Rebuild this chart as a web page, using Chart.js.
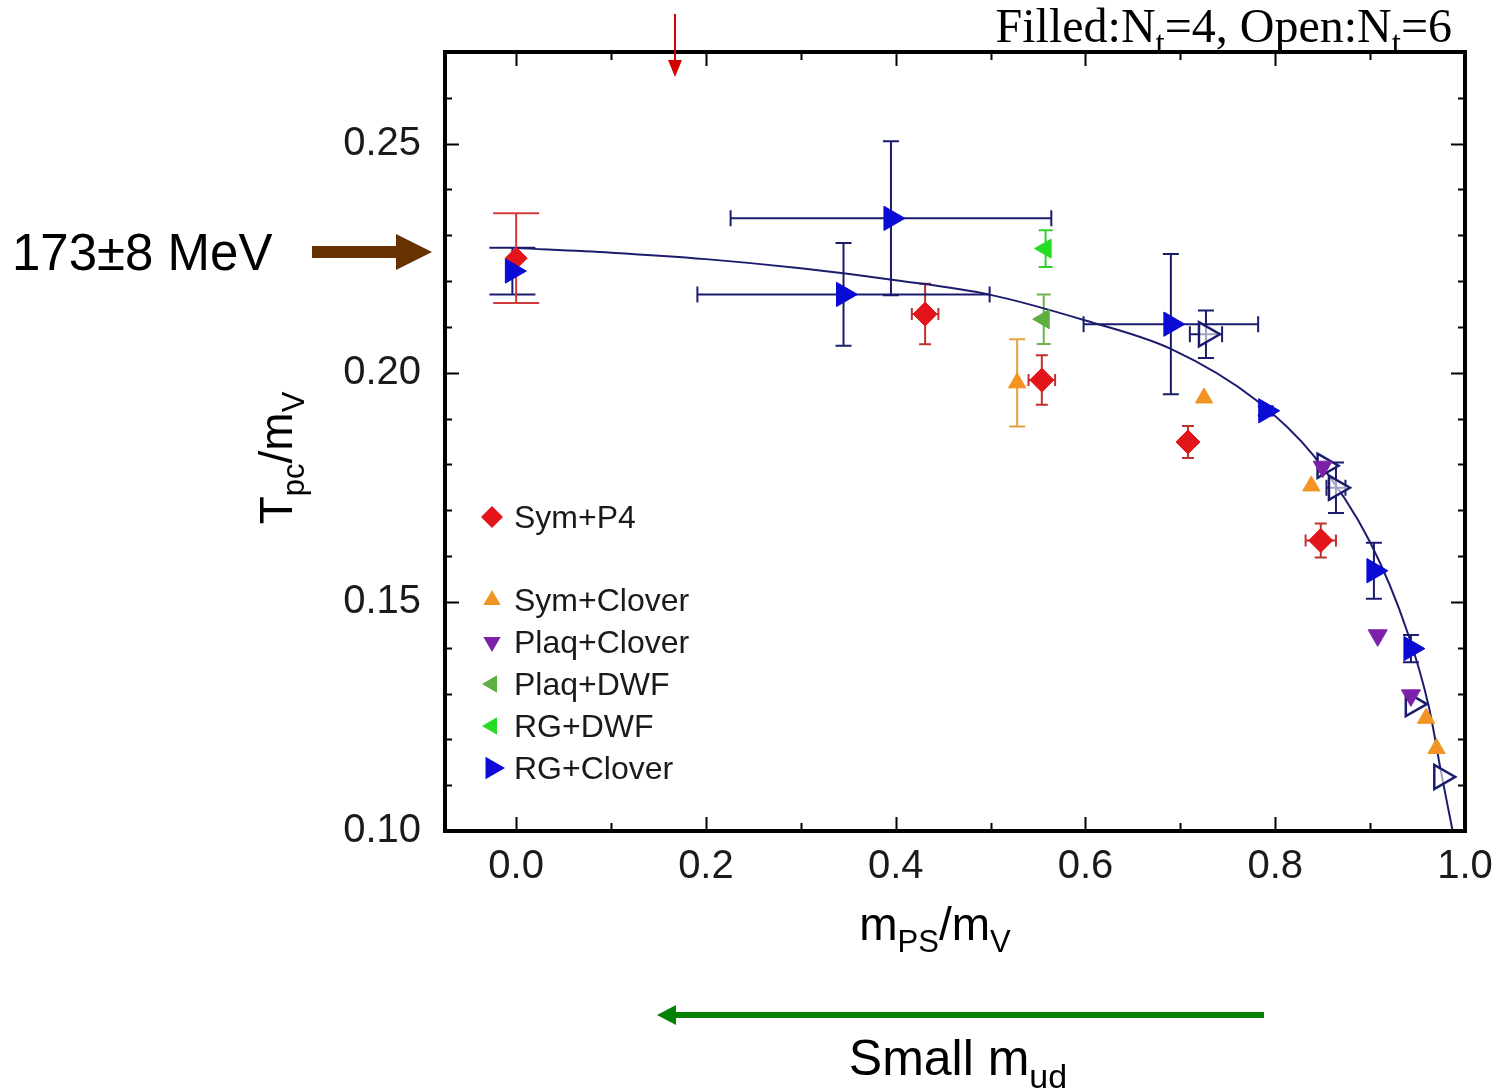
<!DOCTYPE html>
<html>
<head>
<meta charset="utf-8">
<script src="https://cdn.jsdelivr.net/npm/chart.js@4.4.1/dist/chart.umd.min.js"></script>
<style>
  html, body { margin: 0; padding: 0; background: #fff; }
  #wrap { width: 1499px; height: 1090px; position: relative; }
</style>
</head>
<body>
<div id="wrap"><canvas id="chart"></canvas></div>
<script>
// ------------------------------------------------------------
// Data (x = mPS/mV, y = Tpc/mV)
// ------------------------------------------------------------
const seriesNames = ['Sym+P4', 'Sym+Clover', 'Plaq+Clover', 'Plaq+DWF', 'RG+DWF', 'RG+Clover'];

const symP4X = [0.431, 0.554, 0.708, 0.848];
const symP4Y = [0.2128, 0.1984, 0.1849, 0.1634];
const symP4YErr = [0.0066, 0.0054, 0.0035, 0.0037];
const symP4XErr = [0.014, 0.014, 0.005, 0.016];

// chiral-limit values at mPS/mV = 0
const symP4ChiralX = [0.0];
const symP4ChiralY = [0.2250];
const symP4ChiralYErr = [0.0098];

const symCloverX = [0.528, 0.725, 0.838, 0.959, 0.970];
const symCloverY = [0.1978, 0.1945, 0.1753, 0.1246, 0.1180];
const symCloverYErr = [0.0095, 0, 0, 0, 0];

const plaqCloverX = [0.850, 0.908, 0.943];
const plaqCloverY = [0.1795, 0.1427, 0.1296];

const plaqDwfX = [0.556];
const plaqDwfY = [0.2117];
const plaqDwfYErr = [0.0054];

const rgDwfX = [0.558];
const rgDwfY = [0.2271];
const rgDwfYErr = [0.0040];

// RG+Clover, filled = Nt 4
const rgCloverX = [0.345, 0.395, 0.690, 0.790, 0.904, 0.943];
const rgCloverY = [0.2171, 0.2337, 0.2106, 0.1917, 0.1568, 0.1398];
const rgCloverYErr = [0.0112, 0.0168, 0.0153, 0.0010, 0.0061, 0.0030];
const rgCloverXErr = [0.154, 0.169, 0.092, 0, 0, 0];

const rgCloverChiralX = [-0.004];
const rgCloverChiralY = [0.2222];
const rgCloverChiralYErr = [0.0051];

// RG+Clover, open = Nt 6
const rgCloverOpenX = [0.727, 0.852, 0.864, 0.945, 0.975];
const rgCloverOpenY = [0.2084, 0.1797, 0.1749, 0.1277, 0.1118];
const rgCloverOpenYErr = [0.0052, 0, 0.0055, 0, 0];
const rgCloverOpenXErr = [0.017, 0, 0.010, 0, 0];

// fit curve, read point by point
const fitX = [0.0, 0.1, 0.2, 0.3, 0.4, 0.5, 0.6, 0.69, 0.78, 0.84, 0.90, 0.94, 0.962, 0.975, 0.987];
const fitY = [0.2272, 0.2262, 0.2248, 0.2228, 0.2202, 0.2170, 0.2114, 0.2052, 0.1940, 0.1820, 0.1630, 0.1430, 0.1270, 0.1126, 0.1000];

const xTickValues = [0.0, 0.2, 0.4, 0.6, 0.8, 1.0];
const yTickValues = [0.10, 0.15, 0.20, 0.25];

// ------------------------------------------------------------
// Helpers
// ------------------------------------------------------------
const COLORS = {
  red: '#e3151b',
  orange: '#f29422',
  purple: '#7c22a8',
  plaqGreen: '#5eae42',
  rgGreen: '#25dc25',
  blue: '#0b0bd6',
  navy: '#1c1c6e'
};
const SANS = '"Liberation Sans", Arial, sans-serif';

function pts(xs, ys) {
  return xs.map((x, i) => ({ x, y: ys[i] }));
}

function marker(ctx, style, x, y, r, rot, fill) {
  ctx.save();
  ctx.translate(x, y);
  ctx.rotate(rot * Math.PI / 180);
  ctx.beginPath();
  if (style === 'rectRot') {
    ctx.moveTo(0, -r); ctx.lineTo(r, 0); ctx.lineTo(0, r); ctx.lineTo(-r, 0);
  } else {
    for (let k = 0; k < 3; k++) {
      const a = k * 2 * Math.PI / 3;
      const px = Math.sin(a) * r, py = -Math.cos(a) * r;
      if (k === 0) ctx.moveTo(px, py); else ctx.lineTo(px, py);
    }
  }
  ctx.closePath();
  ctx.fillStyle = fill;
  ctx.fill();
  ctx.restore();
}

// text with subscripts: parts = [[text, isSub], ...]
function subText(ctx, parts, x, y, size, family, align) {
  const subSize = Math.round(size * 0.68);
  const mainFont = size + 'px ' + family;
  const subFont = subSize + 'px ' + family;
  let total = 0;
  parts.forEach(p => {
    ctx.font = p[1] ? subFont : mainFont;
    total += ctx.measureText(p[0]).width;
  });
  let cx = align === 'center' ? x - total / 2 : (align === 'right' ? x - total : x);
  ctx.textAlign = 'left';
  ctx.textBaseline = 'alphabetic';
  parts.forEach(p => {
    ctx.font = p[1] ? subFont : mainFont;
    ctx.fillText(p[0], cx, p[1] ? y + size * 0.26 : y);
    cx += ctx.measureText(p[0]).width;
  });
}

// ------------------------------------------------------------
// Plugins
// ------------------------------------------------------------
const errorBars = {
  id: 'errorBars',
  beforeDatasetsDraw(chart) {
    const { ctx, scales: { x, y } } = chart;
    chart.data.datasets.forEach(ds => {
      if (!ds.err) return;
      const c = ds.err.cap;
      ctx.save();
      ctx.strokeStyle = ds.err.color;
      ctx.lineWidth = 2;
      ctx.beginPath();
      ds.data.forEach((p, i) => {
        const px = x.getPixelForValue(p.x);
        const py = y.getPixelForValue(p.y);
        const ye = ds.err.y ? ds.err.y[i] : 0;
        const xe = ds.err.x ? ds.err.x[i] : 0;
        if (ye) {
          const t = y.getPixelForValue(p.y + ye);
          const b = y.getPixelForValue(p.y - ye);
          ctx.moveTo(px, t); ctx.lineTo(px, b);
          ctx.moveTo(px - c, t); ctx.lineTo(px + c, t);
          ctx.moveTo(px - c, b); ctx.lineTo(px + c, b);
        }
        if (xe) {
          const l = x.getPixelForValue(p.x - xe);
          const r = x.getPixelForValue(p.x + xe);
          ctx.moveTo(l, py); ctx.lineTo(r, py);
          ctx.moveTo(l, py - c); ctx.lineTo(l, py + c);
          ctx.moveTo(r, py - c); ctx.lineTo(r, py + c);
        }
      });
      ctx.stroke();
      ctx.restore();
    });
  }
};

const frame = {
  id: 'frame',
  afterDraw(chart) {
    const { ctx, chartArea: a, scales: { x, y } } = chart;
    ctx.save();
    ctx.strokeStyle = '#000';
    ctx.lineWidth = 2;
    ctx.beginPath();
    // x ticks (bottom and top), minor every 0.1
    for (let k = 0; k <= 10; k++) {
      const px = Math.round(x.getPixelForValue(k / 10)) + 0.5;
      const len = k % 2 === 0 ? 14 : 8;
      ctx.moveTo(px, a.bottom); ctx.lineTo(px, a.bottom - len);
      ctx.moveTo(px, a.top); ctx.lineTo(px, a.top + len);
    }
    // y ticks (left and right), minor every 0.01
    for (let k = 10; k <= 27; k++) {
      const py = Math.round(y.getPixelForValue(k / 100)) + 0.5;
      const len = k % 5 === 0 ? 14 : 7;
      ctx.moveTo(a.left, py); ctx.lineTo(a.left + len, py);
      ctx.moveTo(a.right, py); ctx.lineTo(a.right - len, py);
    }
    ctx.stroke();
    ctx.lineWidth = 4;
    ctx.strokeRect(a.left, a.top, a.right - a.left, a.bottom - a.top);

    // legend inside the plot (blank row after the first entry)
    const legend = [
      { style: 'rectRot', rot: 0, color: COLORS.red, r: 11, y: 517 },
      { style: 'triangle', rot: 0, color: COLORS.orange, r: 10, y: 600 },
      { style: 'triangle', rot: 180, color: COLORS.purple, r: 10, y: 642 },
      { style: 'triangle', rot: -90, color: COLORS.plaqGreen, r: 10, y: 684 },
      { style: 'triangle', rot: -90, color: COLORS.rgGreen, r: 10, y: 726 },
      { style: 'triangle', rot: 90, color: COLORS.blue, r: 13, y: 768 }
    ];
    legend.forEach((e, n) => {
      marker(ctx, e.style, 492, e.y, e.r, e.rot, e.color);
      ctx.font = '32px ' + SANS;
      ctx.fillStyle = '#1a1a1a';
      ctx.textAlign = 'left';
      ctx.textBaseline = 'middle';
      ctx.fillText(seriesNames[n], 514, e.y + 2);
    });

    // header text
    ctx.fillStyle = '#000';
    subText(ctx, [['Filled:N', false], ['t', true], ['=4, Open:N', false], ['t', true], ['=6', false]],
      1452, 42, 48, '"Liberation Serif", "Times New Roman", serif', 'right');

    // red arrow at the top
    ctx.strokeStyle = '#d40000';
    ctx.fillStyle = '#d40000';
    ctx.lineWidth = 2;
    ctx.beginPath(); ctx.moveTo(675, 14); ctx.lineTo(675, 64); ctx.stroke();
    ctx.beginPath(); ctx.moveTo(668, 60); ctx.lineTo(682, 60); ctx.lineTo(675, 77); ctx.closePath(); ctx.fill();

    // brown arrow + label
    ctx.fillStyle = '#663300';
    ctx.fillRect(312, 246, 86, 12);
    ctx.beginPath(); ctx.moveTo(396, 234); ctx.lineTo(432, 252); ctx.lineTo(396, 270); ctx.closePath(); ctx.fill();
    ctx.fillStyle = '#000';
    ctx.font = '51px ' + SANS;
    ctx.textAlign = 'left';
    ctx.textBaseline = 'alphabetic';
    ctx.fillText('173\u00b18 MeV', 12, 270);

    // green arrow + label
    ctx.fillStyle = '#058205';
    ctx.fillRect(672, 1012, 592, 6);
    ctx.beginPath(); ctx.moveTo(657, 1015); ctx.lineTo(676, 1005); ctx.lineTo(676, 1025); ctx.closePath(); ctx.fill();
    ctx.fillStyle = '#000';
    subText(ctx, [['Small m', false], ['ud', true]], 958, 1075, 50, SANS, 'center');

    // axis titles
    subText(ctx, [['m', false], ['PS', true], ['/m', false], ['V', true]], 935, 940, 46, SANS, 'center');
    ctx.save();
    ctx.translate(292, 458);
    ctx.rotate(-Math.PI / 2);
    subText(ctx, [['T', false], ['pc', true], ['/m', false], ['V', true]], 0, 0, 46, SANS, 'center');
    ctx.restore();
    ctx.restore();
  }
};

// ------------------------------------------------------------
// Chart
// ------------------------------------------------------------
function ds(label, xs, ys, style, rot, color, r, err, extra) {
  return Object.assign({
    label,
    data: pts(xs, ys),
    pointStyle: style,
    rotation: rot,
    radius: r,
    hoverRadius: r,
    backgroundColor: color,
    borderColor: color,
    borderWidth: 1,
    showLine: false,
    err
  }, extra || {});
}

const datasets = [
  ds('Sym+P4', symP4X, symP4Y, 'rectRot', 0, COLORS.red, 12,
    { y: symP4YErr, x: symP4XErr, cap: 6, color: '#c0302e' }),
  ds('Sym+Clover', symCloverX, symCloverY, 'triangle', 0, COLORS.orange, 10,
    { y: symCloverYErr, cap: 8, color: '#e4a23c' }),
  ds('Plaq+Clover', plaqCloverX, plaqCloverY, 'triangle', 180, COLORS.purple, 11, null),
  ds('Plaq+DWF', plaqDwfX, plaqDwfY, 'triangle', -90, COLORS.plaqGreen, 11,
    { y: plaqDwfYErr, cap: 7, color: '#6cb450' }),
  ds('RG+DWF', rgDwfX, rgDwfY, 'triangle', -90, COLORS.rgGreen, 11,
    { y: rgDwfYErr, cap: 7, color: '#30d030' }),
  ds('RG+Clover Nt6', rgCloverOpenX, rgCloverOpenY, 'triangle', 90, '#ffffff', 14,
    { y: rgCloverOpenYErr, x: rgCloverOpenXErr, cap: 8, color: COLORS.navy },
    { borderColor: COLORS.navy, borderWidth: 2.5, backgroundColor: 'rgba(255,255,255,0.6)' }),
  ds('RG+Clover', rgCloverX, rgCloverY, 'triangle', 90, COLORS.blue, 14,
    { y: rgCloverYErr, x: rgCloverXErr, cap: 8, color: COLORS.navy }),
  ds('RG+Clover chiral', rgCloverChiralX, rgCloverChiralY, 'triangle', 90, COLORS.blue, 14,
    { y: rgCloverChiralYErr, cap: 23, color: COLORS.navy }),
  ds('Sym+P4 chiral', symP4ChiralX, symP4ChiralY, 'rectRot', 0, COLORS.red, 11,
    { y: symP4ChiralYErr, cap: 23, color: '#d03a3a' }),
  {
    label: 'fit',
    type: 'line',
    data: pts(fitX, fitY),
    borderColor: COLORS.navy,
    borderWidth: 2,
    pointRadius: 0,
    fill: false,
    cubicInterpolationMode: 'monotone'
  }
];

const tickFont = { family: SANS, size: 40 };

new Chart(document.getElementById('chart'), {
  type: 'scatter',
  data: { datasets },
  options: {
    responsive: true,
    maintainAspectRatio: false,
    animation: false,
    devicePixelRatio: 1,
    layout: { padding: { left: 0, right: 34, top: 52, bottom: 0 } },
    plugins: { legend: { display: false }, tooltip: { enabled: false } },
    scales: {
      x: {
        type: 'linear',
        min: -0.075,
        max: 1.0,
        grid: { display: false, drawTicks: false },
        border: { display: false },
        afterBuildTicks: s => { s.ticks = xTickValues.map(v => ({ value: v })); },
        afterFit: s => { s.height = 259; s.paddingLeft = 0; s.paddingRight = 0; },
        ticks: {
          font: tickFont,
          color: '#1a1a1a',
          padding: 12,
          maxRotation: 0,
          autoSkip: false,
          callback: v => v.toFixed(1)
        }
      },
      y: {
        type: 'linear',
        min: 0.10,
        max: 0.27,
        grid: { display: false, drawTicks: false },
        border: { display: false },
        afterBuildTicks: s => { s.ticks = yTickValues.map(v => ({ value: v })); },
        afterFit: s => { s.width = 445; s.paddingTop = 0; s.paddingBottom = 0; },
        ticks: {
          font: tickFont,
          color: '#1a1a1a',
          padding: 24,
          autoSkip: false,
          callback: v => v.toFixed(2)
        }
      }
    }
  },
  plugins: [errorBars, frame]
});
</script>
</body>
</html>
